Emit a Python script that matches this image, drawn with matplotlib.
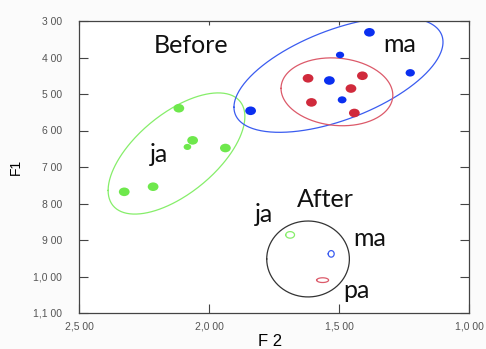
import numpy as np
import matplotlib
matplotlib.use("Agg")
from matplotlib import pyplot as plt
from matplotlib.path import Path

# vowel points before training (F2, F1 in Hz)
ja_f2 = [2116, 2063, 2083, 1937, 2326, 2215]
ja_f1 = [539, 627, 645, 648, 768, 754]
ja_size = [60, 60, 30, 60, 60, 60]

ma_f2 = [1383, 1496, 1226, 1537, 1488, 1840]
ma_f1 = [331, 393, 442, 463, 516, 546]
ma_size = [60, 35, 45, 60, 40, 60]

pa_f2 = [1619, 1410, 1454, 1606, 1441]
pa_f1 = [457, 450, 485, 523, 552]
pa_size = [60, 60, 60, 60, 60]

# ellipses: center F2, center F1, half width F2, half height F1, correlation
before_ell = {
    "ja": (2125, 663, 263, 166, 0.61),
    "ma": (1502, 447, 402, 158, 0.565),
    "pa": (1508, 494, 215, 93, -0.1),
}
after_ell = {
    "all": (1619, 952, 159, 104, 0.0),
    "ja": (1688, 886, 17, 9, 0.0),
    "ma": (1530, 938, 11.5, 9, 0.0),
    "pa": (1563, 1010, 23, 6.5, 0.0),
}

x_ticks = [2500, 2000, 1500, 1000]
x_labels = ["2,5 00", "2,0 00", "1,5 00", "1,0 00"]
y_ticks = [300, 400, 500, 600, 700, 800, 900, 1000, 1100]
y_labels = ["3 00", "4 00", "5 00", "6 00", "7 00", "8 00", "9 00", "1,0 00", "1,1 00"]

# text labels (F2, F1 baseline)
labels = [
    ("Before", 2069, 388),
    ("ma", 1265, 384),
    ("ja", 2194, 685),
    ("After", 1554, 810),
    ("ja", 1790, 850),
    ("ma", 1381, 916),
    ("pa", 1433, 1060),
]

col = {"ja": "#6ee84c", "ma": "#0a2ff0", "pa": "#d02a3c"}
ecol = {"ja": "#86ee6a", "ma": "#3a5cf0", "pa": "#dc5a6a", "all": "#333333"}


def ellipse(ax, p, color):
    cx, cy, hx, hy, r = p
    t = np.linspace(0, 2 * np.pi, 300)
    x = cx + hx * np.cos(t)
    y = cy + hy * (r * np.cos(t) + np.sqrt(1 - r * r) * np.sin(t))
    ax.plot(x, y, color=color, lw=0.9)


fig = plt.figure(figsize=(4.86, 3.49), dpi=100, facecolor="#fbfbfb")
ax = fig.add_axes([79 / 486, 36 / 349, 390 / 486, 292 / 349])
ax.set_facecolor("white")

circ = Path.unit_circle()
dot = Path(circ.vertices * np.array([1.0, 0.8]), circ.codes)

ax.scatter(ja_f2, ja_f1, s=ja_size, color=col["ja"], marker=dot, lw=0, zorder=3)
ax.scatter(ma_f2, ma_f1, s=ma_size, color=col["ma"], marker=dot, lw=0, zorder=3)
ax.scatter(pa_f2, pa_f1, s=pa_size, color=col["pa"], marker=dot, lw=0, zorder=3)

for k, p in before_ell.items():
    ellipse(ax, p, ecol[k])
for k, p in after_ell.items():
    ellipse(ax, p, ecol[k])

for txt, x, y in labels:
    ax.text(x, y, txt, ha="center", va="baseline", fontsize=18,
            family=["Lato", "DejaVu Sans"], color="#111111")

ax.set_xlim(2500, 1000)
ax.set_ylim(1100, 300)
ax.set_xticks(x_ticks, x_labels)
ax.set_yticks(y_ticks, y_labels)
ax.tick_params(direction="in", top=True, right=True, length=6.5, width=0.8,
               color="#444444", labelsize=7.5, labelcolor="#555555",
               labelfontfamily="Liberation Sans")
ax.tick_params(axis="x", pad=6)
ax.tick_params(axis="y", pad=12)
# top ticks are shorter in the original
for t in ax.xaxis.get_major_ticks():
    t.tick2line.set_markersize(3)
for s in ax.spines.values():
    s.set_color("#444444")
    s.set_linewidth(0.9)

ax.set_ylabel("F1", fontsize=10, family="Liberation Sans", va="center")
ax.yaxis.set_label_coords(-0.162, 0.5)
ax.set_xlabel("F 2", fontsize=12, family="Liberation Sans", va="center")
ax.xaxis.set_label_coords(0.49, -0.096)

fig.savefig("out.png", dpi=100, facecolor=fig.get_facecolor())
